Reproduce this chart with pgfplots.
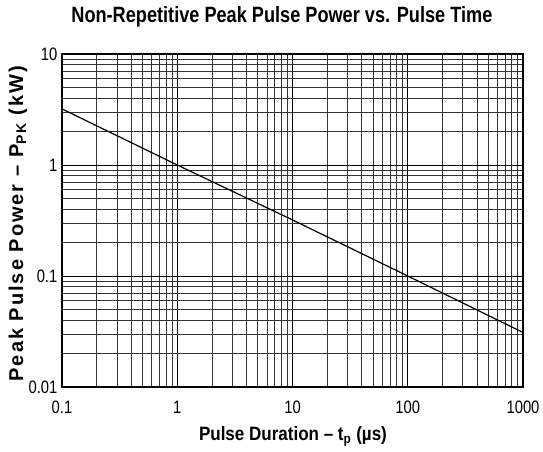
\documentclass[border=0pt]{standalone}
\usepackage{fontspec}
\setmainfont{Liberation Sans}
\newfontfamily\narrow[FakeStretch=0.82,Ligatures=TeX]{Liberation Sans}
\newfontfamily\semnarrow[FakeStretch=0.88,Ligatures=TeX]{Liberation Sans}
\newfontfamily\widebold[LetterSpace=10,Ligatures=TeX]{Liberation Sans}
\usepackage{pgfplots}
\pgfplotsset{compat=1.18}
\begin{document}
\begin{tikzpicture}[x=0.75pt,y=0.75pt]
\path[use as bounding box] (-62,-64) rectangle ++(543,451);
\begin{axis}[
  at={(0,0)}, anchor=south west,
  scale only axis, width=345.75pt, height=249.75pt,
  xmode=log, ymode=log,
  xmin=0.1, xmax=1000, ymin=0.01, ymax=10,
  xtick={0.1,1,10,100,1000}, xticklabels={0.1,1,10,100,1000},
  ytick={0.01,0.1,1,10}, yticklabels={0.01,0.1,1,10},
  grid=both,
  major grid style={black, line width=0.6pt},
  minor grid style={black!80, line width=0.6pt},
  axis line style={black, line width=0.8pt},
  tick style={draw=none},
  /pgf/number format/assume math mode=true,
  ticklabel style={font=\narrow\fontsize{13.5}{15}\selectfont},
  xticklabel style={yshift=-7pt},
  title={\narrow\bfseries\fontsize{16.6}{19}\selectfont Non-Repetitive Peak Pulse Power vs. Pulse Time},
  title style={at={(rel axis cs:0.477,1.087)}, anchor=center},
  xlabel={\semnarrow\bfseries\fontsize{14.5}{16}\selectfont Pulse Duration – t\textsubscript{p} (µs)},
  xlabel style={at={(rel axis cs:0.501,-0.147)}, anchor=center},
  ylabel={\widebold\bfseries\fontsize{15}{17}\selectfont Peak Pulse Power – P\textsubscript{PK} (kW)},
  ylabel style={at={(rel axis cs:-0.0954,0.49)}, anchor=center, rotate=0},
]
\addplot[black, line width=0.9pt] coordinates {(0.1,3.2) (1,1.0) (10,0.32) (100,0.1) (1000,0.031)};
\end{axis}
\end{tikzpicture}
\end{document}
